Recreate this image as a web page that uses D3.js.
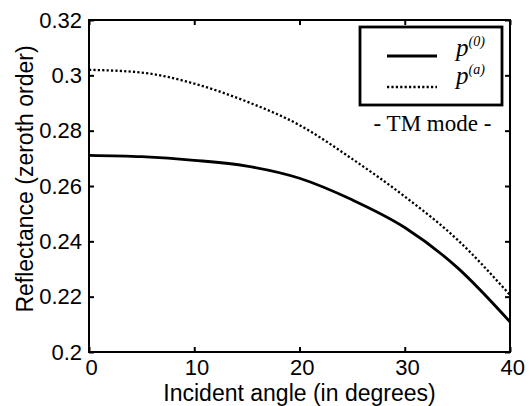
<!DOCTYPE html>
<html>
<head>
<meta charset="utf-8">
<script src="https://cdn.jsdelivr.net/npm/d3@7"></script>
<style>
  html, body { margin: 0; padding: 0; background: #fff; }
  svg { display: block; }
  .tick text { font-family: "Liberation Sans", Arial, sans-serif; font-size: 22px; fill: #000; }
</style>
</head>
<body>
<svg id="chart" width="530" height="406"></svg>
<script>
// Incident angle samples (degrees)
const angles = [0, 5, 10, 15, 20, 25, 30, 35, 40];
// Zeroth-order reflectance, TM mode
const reflectanceP0 = [0.2711, 0.2706, 0.2693, 0.2672, 0.2628, 0.2550, 0.2450, 0.2305, 0.2109];
const reflectancePa = [0.3020, 0.3010, 0.2970, 0.2905, 0.2820, 0.2698, 0.2562, 0.2406, 0.2206];
const xTicks = [0, 10, 20, 30, 40];
const yTicks = [0.2, 0.22, 0.24, 0.26, 0.28, 0.3, 0.32];
const yTickLabels = ["0.2", "0.22", "0.24", "0.26", "0.28", "0.3", "0.32"];
const legendLabels = [{ base: "p", sup: "(0)" }, { base: "p", sup: "(a)" }];
const modeLabel = "- TM mode -";
const xTitle = "Incident angle (in degrees)";
const yTitle = "Reflectance (zeroth order)";

const svg = d3.select("#chart");
const margin = { left: 89, right: 20, top: 20, bottom: 54 };
const W = 530, H = 406;
const innerW = W - margin.left - margin.right;
const innerH = H - margin.top - margin.bottom;

const x = d3.scaleLinear().domain([0, 40]).range([0, innerW]);
const y = d3.scaleLinear().domain([0.2, 0.32]).range([innerH, 0]);

const g = svg.append("g").attr("transform", `translate(${margin.left},${margin.top})`);

// Axes with inward ticks on all four sides
const tickLen = 5;
const axisBottomG = g.append("g").attr("transform", `translate(0,${innerH})`)
  .call(d3.axisBottom(x).tickValues(xTicks).tickSizeInner(-tickLen).tickSizeOuter(0).tickPadding(7));
const axisLeftG = g.append("g")
  .call(d3.axisLeft(y).tickValues(yTicks).tickFormat((d, i) => yTickLabels[i]).tickSizeInner(-tickLen).tickSizeOuter(0).tickPadding(7));
const axisTopG = g.append("g")
  .call(d3.axisTop(x).tickValues(xTicks).tickSizeInner(-tickLen).tickSizeOuter(0).tickFormat(""));
const axisRightG = g.append("g").attr("transform", `translate(${innerW},0)`)
  .call(d3.axisRight(y).tickValues(yTicks).tickSizeInner(-tickLen).tickSizeOuter(0).tickFormat(""));

[axisBottomG, axisLeftG, axisTopG, axisRightG].forEach(a => {
  a.select(".domain").remove();
  a.selectAll(".tick line").attr("stroke", "#000").attr("stroke-width", 2);
});
axisBottomG.selectAll(".tick text").attr("dx", "0.1em");

// Curves
const line = d3.line().x((d, i) => x(angles[i])).y(d => y(d)).curve(d3.curveMonotoneX);

g.append("path").datum(reflectancePa)
  .attr("d", line).attr("fill", "none").attr("stroke", "#000")
  .attr("stroke-width", 2.3).attr("stroke-dasharray", "2.2,2.2");

g.append("path").datum(reflectanceP0)
  .attr("d", line).attr("fill", "none").attr("stroke", "#000")
  .attr("stroke-width", 2.8);

// Plot box
g.append("rect").attr("x", 0).attr("y", 0).attr("width", innerW).attr("height", innerH)
  .attr("fill", "none").attr("stroke", "#000").attr("stroke-width", 2);

// Axis titles
svg.append("text")
  .attr("x", margin.left + innerW / 2).attr("y", 401)
  .attr("text-anchor", "middle")
  .attr("font-family", "Liberation Sans, Arial, sans-serif").attr("font-size", 23)
  .text(xTitle);

svg.append("text")
  .attr("transform", `translate(33,179) rotate(-90)`)
  .attr("text-anchor", "middle")
  .attr("font-family", "Liberation Sans, Arial, sans-serif").attr("font-size", 23)
  .text(yTitle);

// Legend
const legend = svg.append("g");
legend.append("rect").attr("x", 360).attr("y", 27).attr("width", 142).attr("height", 78)
  .attr("fill", "#fff").attr("stroke", "#000").attr("stroke-width", 2.8);

const legendY = [56, 87];
legend.append("line").attr("x1", 387).attr("x2", 437).attr("y1", legendY[0]).attr("y2", legendY[0])
  .attr("stroke", "#000").attr("stroke-width", 2.8);
legend.append("line").attr("x1", 387).attr("x2", 437).attr("y1", legendY[1]).attr("y2", legendY[1])
  .attr("stroke", "#000").attr("stroke-width", 2.3).attr("stroke-dasharray", "2.2,2.2");

legendLabels.forEach((lab, i) => {
  const t = legend.append("text")
    .attr("x", 456).attr("y", legendY[i] + (i === 0 ? 0 : -3))
    .attr("font-family", "Liberation Serif, 'Times New Roman', serif")
    .attr("font-style", "italic").attr("font-size", 25);
  t.append("tspan").text(lab.base);
  t.append("tspan").attr("dy", -10).attr("font-size", 14).text(lab.sup);
});

svg.append("text")
  .attr("x", 432.5).attr("y", 131)
  .attr("text-anchor", "middle")
  .attr("font-family", "Liberation Serif, 'Times New Roman', serif").attr("font-size", 23)
  .text(modeLabel);
</script>
</body>
</html>
